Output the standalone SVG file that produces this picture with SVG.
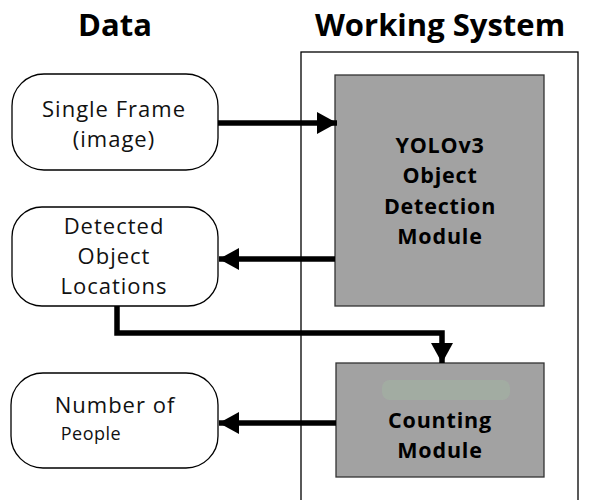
<svg xmlns="http://www.w3.org/2000/svg" width="590" height="500" viewBox="0 0 590 500">
<style>
.title{font-family:"Open Sans","Liberation Sans",sans-serif;font-weight:bold;font-size:31px;fill:#000;text-anchor:middle}
.data{fill:#fff;stroke:#000;stroke-width:1.3}
.dt{font-family:"Open Sans","Liberation Sans",sans-serif;font-size:22px;letter-spacing:1px;fill:#111;text-anchor:middle}
.mod{fill:#a2a2a2;stroke:#333;stroke-width:1.3}
.mt{font-family:"Open Sans","Liberation Sans",sans-serif;font-weight:bold;font-size:21.5px;letter-spacing:0.8px;fill:#000;text-anchor:middle}
.conn{fill:none;stroke:#000;stroke-width:5.5}
</style>
<defs>
<marker id="ah" markerUnits="userSpaceOnUse" markerWidth="20" markerHeight="22" refX="20" refY="11" orient="auto">
<path d="M0,0 L20,11 L0,22 Z" fill="#000"/>
</marker>
</defs>
<rect width="590" height="500" fill="#fff"/>
<text class="title" x="115" y="36">Data</text>
<text class="title" x="440" y="36">Working System</text>
<g id="system"><rect x="301" y="52" width="277" height="460" fill="none" stroke="#000" stroke-width="1.3"/></g>
<g id="single-frame">
<rect class="data" x="12" y="74" width="206" height="96" rx="32"/>
<text class="dt" x="114" y="117">Single Frame</text>
<text class="dt" x="114" y="147">(image)</text>
</g>
<g id="detected">
<rect class="data" x="12" y="207" width="206" height="99" rx="30"/>
<text class="dt" x="114" y="234">Detected</text>
<text class="dt" x="114" y="264">Object</text>
<text class="dt" x="114" y="294">Locations</text>
</g>
<g id="number">
<rect class="data" x="11" y="373" width="207" height="95" rx="32"/>
<text class="dt" x="115" y="413">Number of</text>
<text class="dt" x="91" y="440" style="font-size:18px;letter-spacing:0.5px">People</text>
</g>
<g id="yolo">
<rect class="mod" x="335" y="75" width="209" height="231"/>
<text class="mt" x="440" y="153">YOLOv3</text>
<text class="mt" x="440" y="183">Object</text>
<text class="mt" x="440" y="214">Detection</text>
<text class="mt" x="440" y="244">Module</text>
</g>
<g id="counting">
<rect class="mod" x="336" y="363" width="208" height="114"/>
<rect x="382" y="380" width="128" height="20" rx="8" fill="#a3afa3" opacity="0.8"/>
<text class="mt" x="440" y="428">Counting</text>
<text class="mt" x="440" y="458">Module</text>
</g>
<g id="connectors">
<path class="conn" d="M218,123 H337" marker-end="url(#ah)"/>
<path class="conn" d="M335,259 H219" marker-end="url(#ah)"/>
<path class="conn" d="M117,306 V333 H442 V363" marker-end="url(#ah)"/>
<path class="conn" d="M336,423 H219" marker-end="url(#ah)"/>
</g>
</svg>
